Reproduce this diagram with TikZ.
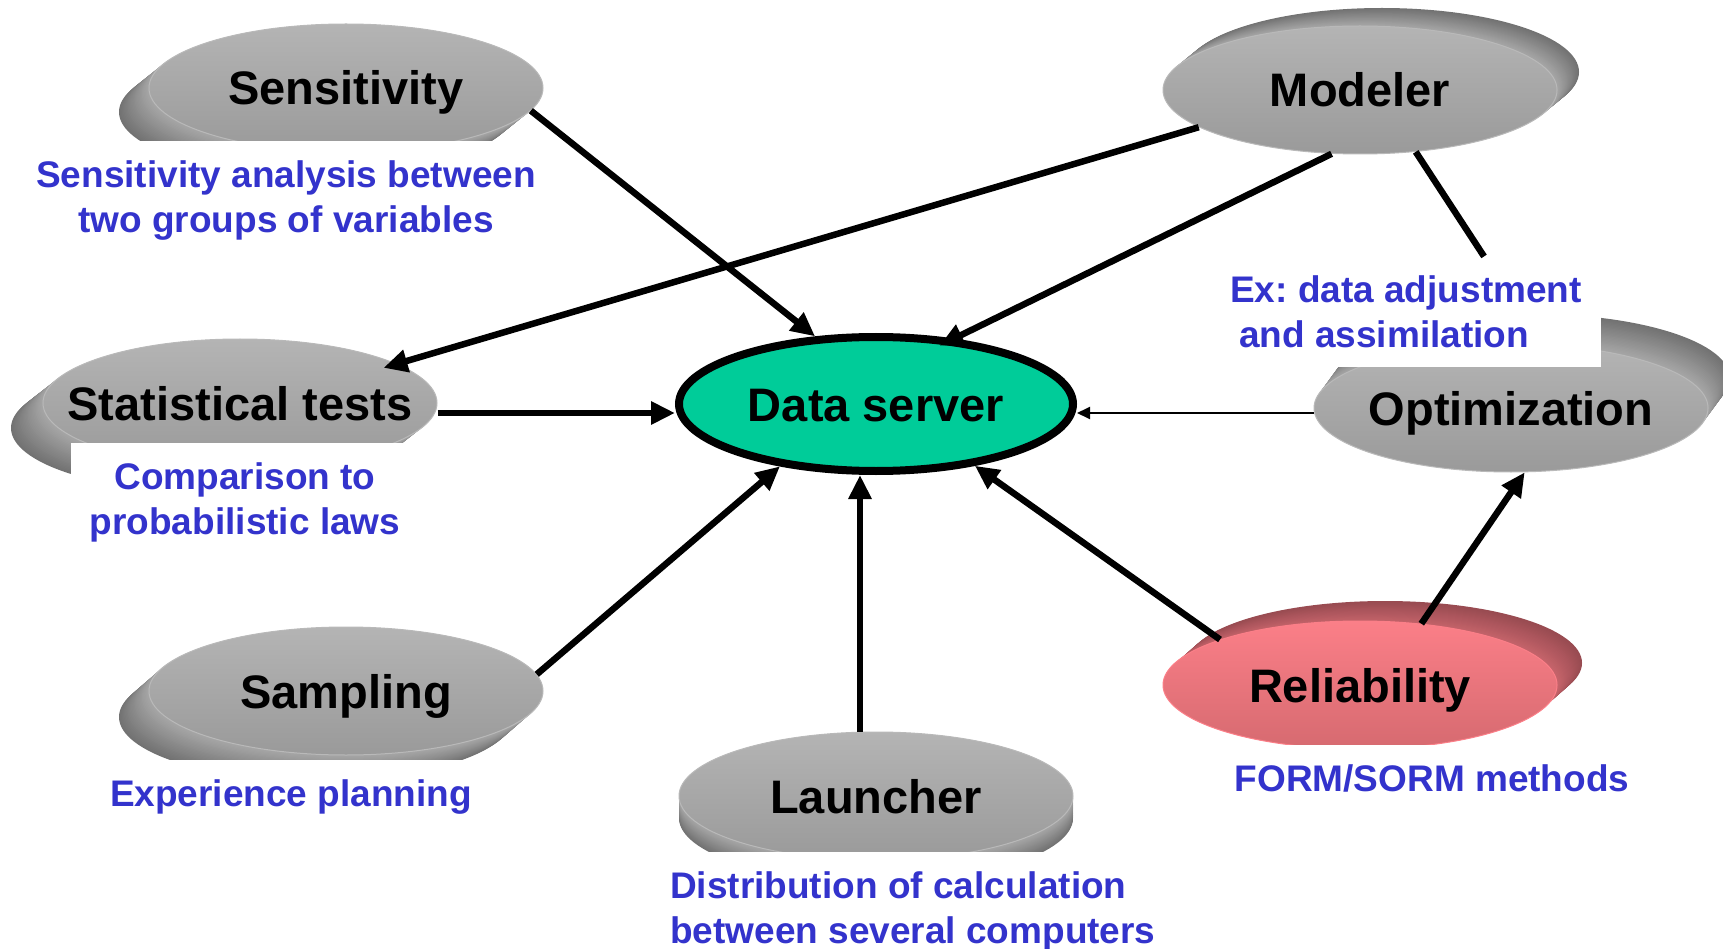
\documentclass[tikz,border=0pt]{standalone}
\usepackage{fontspec}
\setmainfont{Liberation Sans}
\usetikzlibrary{arrows.meta, shapes.geometric}
\definecolor{labblue}{HTML}{3333CC}
\definecolor{dsgreen}{HTML}{00CC99}
\definecolor{facetop}{HTML}{B4B4B4}
\definecolor{facebot}{HTML}{9A9A9A}
\definecolor{shadedark}{HTML}{727272}
\definecolor{shadelight}{HTML}{A8A8A8}
\definecolor{relshdark}{HTML}{984B51}
\definecolor{relshlight}{HTML}{C8656C}
\definecolor{reltop}{HTML}{FB7F88}
\definecolor{relbot}{HTML}{D66A70}

\begin{document}
\frenchspacing
\begin{tikzpicture}[x=1pt, y=-1pt, >={Triangle[length=24pt,width=22pt]},
			face/.style={ellipse, minimum width=394pt, minimum height=128pt,
				inner xsep=-40pt, inner ysep=0pt, top color=facetop, bottom color=facebot,
				draw=gray!55, line width=1pt, text height=34pt, text depth=0pt,
				font=\fontsize{47}{56}\selectfont\bfseries},
			relface/.style={face, top color=reltop, bottom color=relbot, draw=reltop},
			dsnode/.style={ellipse, minimum width=394pt, minimum height=134pt, inner sep=0pt,
				fill=dsgreen, draw=black, line width=8pt, text height=34pt, text depth=0pt,
				font=\fontsize{47}{56}\selectfont\bfseries},
			lab/.style={fill=white, inner sep=19pt, text=labblue, align=center,
				font=\fontsize{37}{45}\selectfont\bfseries},
			arr/.style={->, line width=6.5pt},
			thinarr/.style={-{Triangle[length=13pt,width=12pt]}, line width=2pt}]
			
			\useasboundingbox (0,0) rectangle (1723,949);
			
			% Spessore delle ellissi (copie traslate, dalla piu' lontana)
			\foreach \cx/\cy/\dx/\dy in {346/88/-30/24, 240/403/-32/25, 346/691/-30/26, 876/796/0/22, 1360/90/22/-18, 1511/408/22/-30}{
				\foreach \s in {1,0.96,...,0.03}{
					\pgfmathtruncatemacro{\p}{100-100*\s}
					\fill[shadelight!\p!shadedark] (\cx+\s*\dx,\cy+\s*\dy) ellipse [x radius=197pt, y radius=64pt];
				}
			}
			\foreach \s in {1,0.96,...,0.03}{
				\pgfmathtruncatemacro{\p}{100-100*\s}
				\fill[relshlight!\p!relshdark] (1360+\s*25,685-\s*22) ellipse [x radius=197pt, y radius=62pt];
			}
			
			% Moduli
			\node[face] (sens) at (346,88) {Sensitivity};
			\node[face] (mod) at (1360,90) {Modeler};
			\node[face] (stat) at (240,403) {Statistical tests};
			\node[face] (opt) at (1511,408) {Optimization};
			\node[face] (sam) at (346,691) {Sampling};
			\node[face] (launch) at (876,796) {Launcher};
			\node[relface] (rel) at (1360,685) {Reliability};
			\node[dsnode] (ds) at (876,404) {Data server};
			
			% Didascalie
			\node[lab, anchor=north] (senslab) at (286,141) {Sensitivity analysis between\\two groups of variables};
			\node[lab, anchor=north] (statlab) at (245,443) {Comparison to\\probabilistic laws};
			\node[lab, anchor=north] (samlab) at (291,760) {Experience planning};
			\node[lab, anchor=north west, align=left] (launchlab) at (651,852) {Distribution of calculation\\between several computers};
			\node[lab, anchor=south east, align=left] (exlab) at (1601,367) {Ex: data adjustment\\\hspace*{9pt}and assimilation};
			\node[lab, anchor=north] (rellab) at (1432,745) {FORM/SORM methods};
			
			% --- Collegamenti ---
			\draw[arr] (sens.-7) -- (ds.132);
			\draw[arr, shorten >=-14pt] (mod.-167) -- (stat.14);
			\draw[arr, shorten >=-16pt] (mod.-114) -- (ds.40);
			\draw[line width=6.5pt] (mod.-48) -- ([xshift=78pt]exlab.north);
			\draw[arr] ([yshift=-10pt]stat.east) -- ([yshift=-9pt]ds.west);
			\draw[thinarr] ([yshift=-5pt]opt.west) -- ([yshift=-9pt]ds.east);
			\draw[arr] (sam.5) -- (ds.-147);
			\draw[arr] ([xshift=-16pt]launch.north) -- ([xshift=-16pt]ds.south);
			\draw[arr] (rel.162) -- (ds.-32);
			\draw[arr] (rel.45) -- (opt.-78);
		\end{tikzpicture}
\end{document}
